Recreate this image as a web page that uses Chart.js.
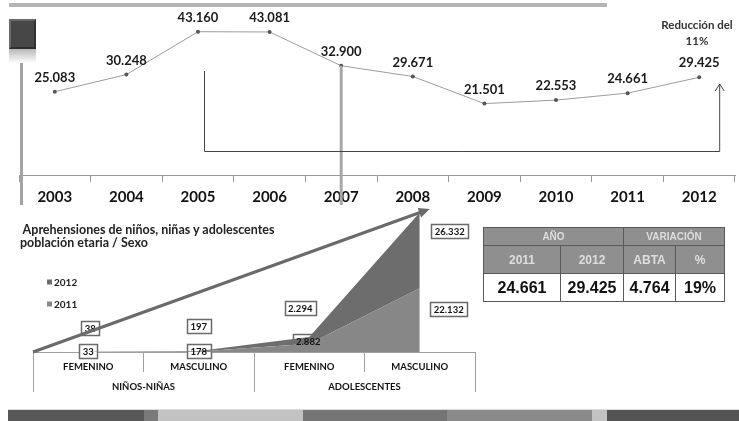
<!DOCTYPE html>
<html lang="es">
<head>
<meta charset="utf-8">
<title>Aprehensiones de niños, niñas y adolescentes</title>
<script src="https://cdn.jsdelivr.net/npm/chart.js@4.4.1/dist/chart.umd.min.js"></script>
<style>
  body { margin: 0; width: 739px; height: 421px; position: relative; overflow: hidden; background: #fff; font-family: Lato, sans-serif; }
  canvas { position: absolute; }
  #barraSup { position: absolute; left: 9px; top: 3px; width: 598px; height: 4px; background: #b5b5b5; }
  #cubo { position: absolute; left: 9px; top: 19px; width: 27px; height: 30px; background: #474747; box-sizing: border-box; border: 2px solid #6a6a6a; border-bottom-color: #2e2e2e; border-right-color: #333; }
  #sombra { position: absolute; left: 9px; top: 49px; width: 27px; height: 14px; background: linear-gradient(#b8b8b8, #fff); }
  #eje { position: absolute; left: 20px; top: 49px; width: 3px; height: 156px; background: #a3a3a3; }
  #reduccion { position: absolute; left: 651px; top: 17px; width: 92px; text-align: center; font-weight: bold; font-size: 11.5px; line-height: 16px; color: #333; }
  #titulo { position: absolute; left: 20px; top: 223px; font-weight: bold; font-size: 12.5px; line-height: 13px; color: #222; }
  #resumen { position: absolute; left: 483px; top: 227px; width: 241px; border-collapse: collapse; table-layout: fixed; font-family: 'Liberation Sans', Arial, sans-serif; font-weight: bold; }
  #resumen td, #resumen th { border: 1px solid #5a5a5a; text-align: center; padding: 0; }
  #resumen th { background: #8f8f8f; color: #dedede; }
  #resumen tr.r1 th { height: 17px; font-size: 10px; }
  #resumen tr.r2 th { height: 27px; font-size: 12px; }
  #resumen tr.r3 td { height: 27px; font-size: 16px; color: #111; }
  #pie { position: absolute; left: 8px; top: 409px; height: 12px; width: 731px; display: flex; border-top: 1px solid #ddd; }
  #pie div { height: 100%; }
</style>
</head>
<body>
<div id="barraSup"></div>
<canvas id="serie" width="739" height="212" style="left:0;top:0"></canvas>
<div id="eje"></div>
<div id="sombra"></div>
<div id="cubo"></div>
<div id="reduccion">Reducción del<br>11%</div>

<canvas id="edades" width="490" height="200" style="left:0;top:200px"></canvas>
<div id="titulo">&nbsp;Aprehensiones de niños, niñas y adolescentes<br>población etaria / Sexo</div>

<table id="resumen">
  <colgroup><col style="width:77px"><col style="width:63px"><col style="width:52px"><col style="width:49px"></colgroup>
  <tr class="r1"><th colspan="2">AÑO</th><th colspan="2">VARIACIÓN</th></tr>
  <tr class="r2" id="cabecera"></tr>
  <tr class="r3" id="valores"></tr>
</table>

<div id="pie">
  <div style="width:136px;background:#575757"></div>
  <div style="width:14px;background:#7a7a7a"></div>
  <div style="width:145px;background:#c2c2c2"></div>
  <div style="width:144px;background:#757575"></div>
  <div style="width:145px;background:#8a8a8a"></div>
  <div style="width:15px;background:#c2c2c2"></div>
  <div style="width:132px;background:#545454"></div>
</div>

<script>
// serie anual de aprehensiones
const anios = ['2003', '2004', '2005', '2006', '2007', '2008', '2009', '2010', '2011', '2012'];
const aprehensiones = [25083, 30248, 43160, 43081, 32900, 29671, 21501, 22553, 24661, 29425];

// desglose por población etaria y sexo
const sexos = ['FEMENINO', 'MASCULINO', 'FEMENINO', 'MASCULINO'];
const grupos = ['NIÑOS-NIÑAS', 'ADOLESCENTES'];
const datos2011 = [33, 178, 2882, 22132];
const datos2012 = [38, 197, 2294, 26332];

// cuadro resumen
const cabecera = ['2011', '2012', 'ABTA', '%'];
const resumen = ['24.661', '29.425', '4.764', '19%'];

function miles(v) {
  return String(v).replace(/\B(?=(\d{3})+(?!\d))/g, '.');
}

document.getElementById('cabecera').innerHTML = cabecera.map(t => '<th>' + t + '</th>').join('');
document.getElementById('valores').innerHTML = resumen.map(t => '<td>' + t + '</td>').join('');

const fuente = 'Lato, "Open Sans", sans-serif';

// etiquetas de valor, flecha 2007 y corchete de variacion
const anotacionesSerie = {
  id: 'anotacionesSerie',
  afterDatasetsDraw(chart) {
    const ctx = chart.ctx;
    const pts = chart.getDatasetMeta(0).data;
    const area = chart.chartArea;
    ctx.save();

    // linea vertical en 2007
    const p07 = pts[4];
    ctx.fillStyle = '#a8a8a8';
    ctx.fillRect(p07.x - 1.5, p07.y, 3, chart.height - 7 - p07.y);

    // corchete con flecha
    const x1 = pts[2].x + 6;
    const x2 = pts[9].x + 20;
    const yBase = area.bottom - 24;
    ctx.strokeStyle = '#444';
    ctx.lineWidth = 1;
    ctx.beginPath();
    ctx.moveTo(x1 + 0.5, area.top + 62);
    ctx.lineTo(x1 + 0.5, yBase + 0.5);
    ctx.lineTo(x2 + 0.5, yBase + 0.5);
    ctx.lineTo(x2 + 0.5, area.top + 75);
    ctx.stroke();
    ctx.beginPath();
    ctx.moveTo(x2 - 4, area.top + 82);
    ctx.lineTo(x2 + 0.5, area.top + 75);
    ctx.lineTo(x2 + 5, area.top + 82);
    ctx.stroke();

    // valores sobre los puntos
    ctx.font = 'bold 13px ' + fuente;
    ctx.fillStyle = '#1a1a1a';
    ctx.textAlign = 'center';
    ctx.textBaseline = 'middle';
    pts.forEach((p, i) => {
      ctx.fillText(miles(aprehensiones[i]), p.x, p.y - 14);
    });
    ctx.restore();
  }
};

new Chart(document.getElementById('serie'), {
  type: 'line',
  data: {
    labels: anios,
    datasets: [{
      data: aprehensiones,
      borderColor: '#9c9c9c',
      borderWidth: 1,
      tension: 0,
      pointRadius: 2,
      pointBackgroundColor: '#555',
      pointBorderWidth: 0
    }]
  },
  options: {
    responsive: false,
    animation: false,
    layout: { padding: { left: 19, right: 3, top: 9, bottom: 0 } },
    plugins: { legend: { display: false }, tooltip: { enabled: false } },
    scales: {
      x: {
        offset: true,
        grid: { offset: true, drawOnChartArea: false, tickLength: 7, color: '#999' },
        border: { color: '#999' },
        ticks: { font: { family: fuente, weight: 'bold', size: 15 }, color: '#111', padding: 6, maxRotation: 0, autoSkip: false }
      },
      y: { display: false, min: 0, max: 50000 }
    }
  },
  plugins: [anotacionesSerie]
});

// posicion de cada cuadro de valor respecto al centro de la categoria y la base
const posCuadros2012 = [[2, -24], [0, -26], [-9, -44], [30, -121]];
const posCuadros2011 = [[0, -1], [0, -1], [-1, -11], [29, -43]];

function cuadros(chart) {
  const area = chart.chartArea;
  const xs = chart.scales.x;
  const lista = [];
  datos2012.forEach((v, i) => lista.push({ t: miles(v), x: xs.getPixelForValue(i) + posCuadros2012[i][0], y: area.bottom + posCuadros2012[i][1] }));
  datos2011.forEach((v, i) => lista.push({ t: miles(v), x: xs.getPixelForValue(i) + posCuadros2011[i][0], y: area.bottom + posCuadros2011[i][1] }));
  return lista;
}

const anotacionesEdades = {
  id: 'anotacionesEdades',
  beforeDatasetsDraw(chart) {
    const ctx = chart.ctx;
    ctx.save();
    ctx.font = 'bold 9.5px ' + fuente;
    cuadros(chart).forEach(c => {
      const w = Math.round(ctx.measureText(c.t).width) + 7;
      const h = 14;
      ctx.fillStyle = '#fff';
      ctx.fillRect(c.x - w / 2, c.y - h / 2, w, h);
      ctx.strokeStyle = '#6a6a6a';
      ctx.lineWidth = 1.5;
      ctx.strokeRect(Math.round(c.x - w / 2) + 0.5, Math.round(c.y - h / 2) + 0.5, w, h);
    });
    ctx.restore();
  },
  afterDatasetsDraw(chart) {
    const ctx = chart.ctx;
    const area = chart.chartArea;
    ctx.save();
    ctx.font = 'bold 9.5px ' + fuente;
    ctx.fillStyle = '#111';
    ctx.textAlign = 'center';
    ctx.textBaseline = 'middle';
    cuadros(chart).forEach(c => ctx.fillText(c.t, c.x, c.y + 1));

    // flecha de tendencia
    const x0 = area.left, y0 = area.bottom;
    const x1 = chart.scales.x.getPixelForValue(3) + 10, y1 = area.top + 1;
    const ang = Math.atan2(y1 - y0, x1 - x0);
    ctx.strokeStyle = '#6a6a6a';
    ctx.fillStyle = '#6a6a6a';
    ctx.lineWidth = 3;
    ctx.beginPath();
    ctx.moveTo(x0, y0);
    ctx.lineTo(x1 - 6 * Math.cos(ang), y1 - 6 * Math.sin(ang));
    ctx.stroke();
    ctx.beginPath();
    ctx.moveTo(x1, y1);
    ctx.lineTo(x1 - 11 * Math.cos(ang) + 5 * Math.sin(ang), y1 - 11 * Math.sin(ang) - 5 * Math.cos(ang));
    ctx.lineTo(x1 - 11 * Math.cos(ang) - 5 * Math.sin(ang), y1 - 11 * Math.sin(ang) + 5 * Math.cos(ang));
    ctx.closePath();
    ctx.fill();

    // leyenda (2012 arriba)
    const ds = chart.data.datasets.slice().reverse();
    ds.forEach((d, i) => {
      const y = area.top + 74 + i * 22;
      ctx.fillStyle = d.backgroundColor;
      ctx.fillRect(area.left + 14, y - 2.5, 5, 5);
      ctx.fillStyle = '#222';
      ctx.textAlign = 'left';
      ctx.font = 'bold 10px ' + fuente;
      ctx.fillText(d.label, area.left + 21, y + 0.5);
    });
    ctx.restore();
  }
};

const fuenteEje = { family: fuente, weight: 'bold', size: 9.5 };

new Chart(document.getElementById('edades'), {
  type: 'line',
  data: {
    labels: sexos,
    datasets: [
      { label: '2011', data: datos2011, backgroundColor: '#878787', borderColor: '#878787', borderWidth: 0, fill: 'origin', pointRadius: 0, tension: 0 },
      { label: '2012', data: datos2012, backgroundColor: '#6d6d6d', borderColor: '#6d6d6d', borderWidth: 0, fill: '-1', pointRadius: 0, tension: 0 }
    ]
  },
  options: {
    responsive: false,
    animation: false,
    layout: { padding: { left: 33, right: 15, top: 8, bottom: 8 } },
    plugins: { legend: { display: false }, tooltip: { enabled: false } },
    scales: {
      x: {
        offset: true,
        weight: 0,
        grid: { offset: true, drawOnChartArea: false, tickLength: 20, color: '#a0a0a0' },
        border: { color: '#a0a0a0' },
        ticks: { font: fuenteEje, color: '#111', padding: -11, maxRotation: 0, autoSkip: false },
        afterFit(s) { s.height = 20; }
      },
      grupo: {
        type: 'category',
        axis: 'x',
        position: 'bottom',
        labels: grupos,
        offset: true,
        weight: 1,
        grid: { offset: true, drawOnChartArea: false, tickLength: 20, color: '#a0a0a0' },
        border: { display: false },
        ticks: { font: fuenteEje, color: '#111', padding: -11, maxRotation: 0, autoSkip: false },
        afterFit(s) { s.height = 20; }
      },
      y: { display: false, stacked: true, min: 0, max: 50000 }
    }
  },
  plugins: [anotacionesEdades]
});
</script>
</body>
</html>
